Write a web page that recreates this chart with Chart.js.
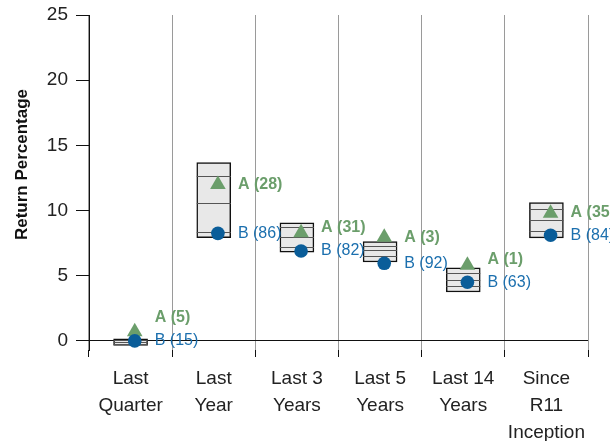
<!DOCTYPE html>
<html>
<head>
<meta charset="utf-8">
<script src="https://cdn.jsdelivr.net/npm/chart.js@4"></script>
<style>
  html, body { margin: 0; padding: 0; background: #fff; overflow: hidden; }
</style>
</head>
<body>
<canvas id="chart" width="610" height="441"></canvas>
<script>
// Categorías (etiquetas multilínea)
const categorias = [
  ["Last", "Quarter"],
  ["Last", "Year"],
  ["Last 3", "Years"],
  ["Last 5", "Years"],
  ["Last 14", "Years"],
  ["Since", "R11", "Inception"]
];

// Cajas de percentiles (superior -> inferior)
const p05 = [0.15, 13.67, 9.05, 7.62, 5.6, 10.6];
const p25 = [0.05, 12.68, 8.7, 7.25, 5.2, 10.1];
const p50 = [-0.1, 10.6, 7.95, 6.95, 4.7, 9.3];
const p75 = [-0.25, 8.38, 7.2, 6.5, 4.2, 8.4];
const p95 = [-0.35, 7.92, 6.8, 6.05, 3.75, 7.9];

// Series A (triángulo) y B (círculo)
const serieA = [0.7, 12.0, 8.3, 7.95, 5.8, 9.8];
const serieB = [0.0, 8.25, 6.9, 5.95, 4.5, 8.1];
const rangoA = [5, 28, 31, 3, 1, 35];
const rangoB = [15, 86, 82, 92, 63, 84];

const yTicks = [0, 5, 10, 15, 20, 25];

const FONT = '"Liberation Sans", Arial, sans-serif';
const verde = "#6b9e6b";
const azulPunto = "#0a5d99";
const azulTexto = "#1b6fae";

// Líneas internas de las cajas
const lineasCaja = {
  id: "lineasCaja",
  afterDatasetDraw(chart, args) {
    if (args.index !== 0) return;
    const { ctx, scales: { y } } = chart;
    const meta = chart.getDatasetMeta(0);
    ctx.save();
    ctx.strokeStyle = "#555";
    ctx.lineWidth = 1;
    meta.data.forEach((bar, i) => {
      const half = bar.width / 2;
      [p25[i], p50[i], p75[i]].forEach(v => {
        const py = Math.round(y.getPixelForValue(v)) + 0.5;
        ctx.beginPath();
        ctx.moveTo(bar.x - half, py);
        ctx.lineTo(bar.x + half, py);
        ctx.stroke();
      });
    });
    ctx.restore();
  }
};

// Etiquetas "A (n)" / "B (n)"
const etiquetas = {
  id: "etiquetas",
  afterDatasetsDraw(chart) {
    const { ctx } = chart;
    const mA = chart.getDatasetMeta(1);
    const mB = chart.getDatasetMeta(2);
    ctx.save();
    ctx.textBaseline = "middle";
    ctx.textAlign = "left";
    mA.data.forEach((pa, i) => {
      const pb = mB.data[i];
      let yA = pa.y;
      const yB = pb.y;
      if (yB - yA < 23) yA = yB - 23;
      ctx.font = `bold 16px ${FONT}`;
      ctx.fillStyle = verde;
      ctx.fillText(`A (${rangoA[i]})`, pa.x + 20, yA);
      ctx.font = `16px ${FONT}`;
      ctx.fillStyle = azulTexto;
      ctx.fillText(`B (${rangoB[i]})`, pb.x + 20, yB);
    });
    ctx.restore();
  }
};

// Título del eje Y
const tituloY = {
  id: "tituloY",
  afterDraw(chart) {
    const { ctx, chartArea } = chart;
    ctx.save();
    ctx.translate(22, (chartArea.top + chartArea.bottom) / 2 - 18);
    ctx.rotate(-Math.PI / 2);
    ctx.font = `bold 17px ${FONT}`;
    ctx.fillStyle = "#111";
    ctx.textAlign = "center";
    ctx.textBaseline = "middle";
    ctx.fillText("Return Percentage", 0, 0);
    ctx.restore();
  }
};

new Chart(document.getElementById("chart"), {
  type: "bar",
  data: {
    labels: categorias,
    datasets: [
      {
        label: "Rango",
        data: p05.map((t, i) => [p95[i], t]),
        backgroundColor: "#e8e8e8",
        borderColor: "#111",
        borderWidth: 1.5,
        borderSkipped: false,
        barThickness: 34,
        grouped: false,
        order: 3
      },
      {
        type: "scatter",
        label: "A",
        xAxisID: "x2",
        data: serieA.map((v, i) => ({ x: i + 0.05, y: v })),
        pointStyle: "triangle",
        pointRadius: 9,
        pointBackgroundColor: verde,
        pointBorderWidth: 0,
        order: 2
      },
      {
        type: "scatter",
        label: "B",
        xAxisID: "x2",
        data: serieB.map((v, i) => ({ x: i + 0.05, y: v })),
        pointStyle: "circle",
        pointRadius: 6.8,
        pointBackgroundColor: azulPunto,
        pointBorderWidth: 0,
        order: 1
      }
    ]
  },
  options: {
    responsive: false,
    animation: false,
    layout: { padding: { top: 15, right: 22, left: 0, bottom: 0 } },
    plugins: { legend: { display: false }, tooltip: { enabled: false } },
    scales: {
      x: {
        type: "category",
        offset: true,
        border: { display: false },
        grid: {
          offset: true,
          color: "#9a9a9a",
          tickColor: "#111",
          tickLength: 7,
          lineWidth: 1
        },
        ticks: {
          font: { family: FONT, size: 19, lineHeight: 1.42 },
          color: "#222",
          padding: 8,
          maxRotation: 0,
          autoSkip: false
        },
        afterFit: s => { s.height = 91; }
      },
      x2: {
        type: "linear",
        display: false,
        offset: false,
        min: -0.5,
        max: 5.5
      },
      y: {
        min: -0.7,
        max: 25,
        border: { display: true, color: "#111", width: 1 },
        grid: {
          drawOnChartArea: true,
          color: ctx => (ctx.tick && ctx.tick.value === 0 ? "#111" : "rgba(0,0,0,0)"),
          tickColor: "#111",
          tickLength: 13
        },
        ticks: {
          font: { family: FONT, size: 19 },
          color: "#222",
          padding: 8
        },
        afterBuildTicks: axis => { axis.ticks = yTicks.map(v => ({ value: v })); },
        afterFit: s => { s.width = 89; s.paddingTop = 0; s.paddingBottom = 0; }
      }
    }
  },
  plugins: [lineasCaja, etiquetas, tituloY]
});
</script>
</body>
</html>
